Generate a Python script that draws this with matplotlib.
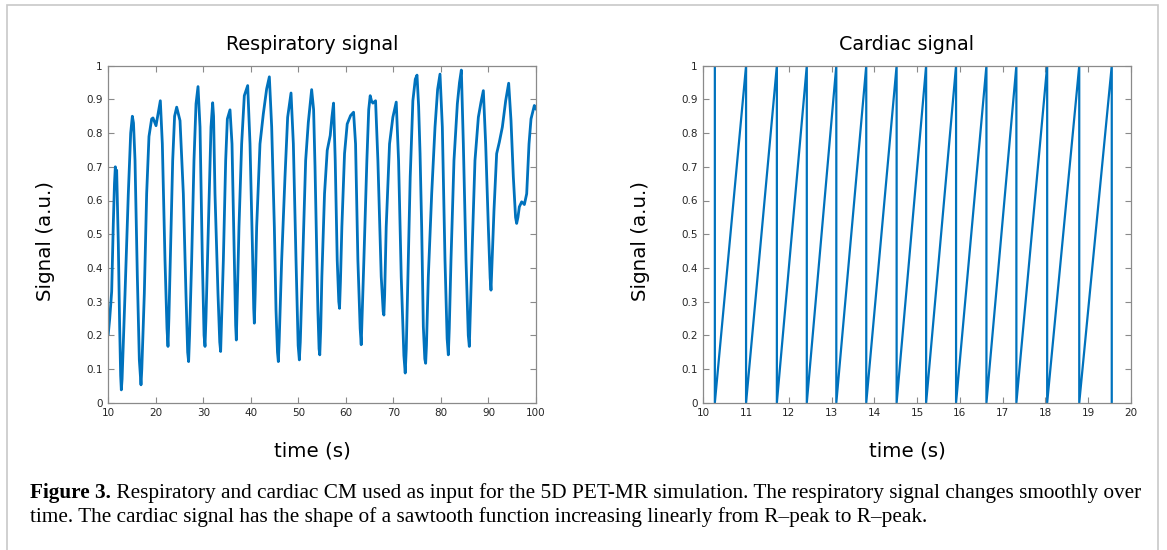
import matplotlib
matplotlib.use("Agg")
import matplotlib.pyplot as plt
from matplotlib.patches import Rectangle
import numpy as np

# ---------------- data ----------------
resp_time = [10.00, 10.30, 10.71, 11.05, 11.30, 11.48, 11.62, 11.76, 12.11, 12.39, 12.60, 12.74, 12.90,
             13.51, 14.21, 14.71, 15.06, 15.30, 15.62, 16.11, 16.53, 16.88, 17.05,
             17.58, 18.07, 18.56, 19.12, 19.40, 20.04, 20.50, 20.95, 21.37, 21.93, 22.35, 22.56, 22.75,
             23.05, 23.55, 23.95, 24.39, 25.09, 25.79, 26.34, 26.70, 26.90, 27.10,
             27.54, 28.03, 28.46, 28.88, 29.30, 29.79, 30.15, 30.35, 30.55,
             31.05, 31.61, 31.96, 32.15, 32.45, 33.08, 33.45, 33.64, 33.85,
             34.21, 34.70, 35.05, 35.61, 36.03, 36.45, 36.80, 36.94, 37.10,
             37.50, 38.06, 38.62, 39.33, 39.82, 40.31, 40.60, 40.73, 40.90,
             41.22, 41.92, 42.62, 43.32, 43.89, 44.38, 44.94, 45.29, 45.60, 45.78, 45.95,
             46.48, 47.18, 47.74, 48.45, 48.94, 49.50, 49.95, 50.20, 50.40,
             50.90, 51.53, 52.09, 52.79, 53.20, 53.50, 53.75, 54.10, 54.35, 54.50, 54.70,
             54.94, 55.50, 56.07, 56.70, 57.05, 57.40, 57.75, 58.17, 58.50, 58.66, 58.85,
             59.15, 59.71, 60.27, 60.98, 61.61, 62.03, 62.52, 63.00, 63.22, 63.40,
             63.78, 64.41, 64.80, 65.11, 65.40, 65.68, 66.24, 66.73, 67.43, 67.85, 67.99, 68.15,
             68.48, 69.18, 69.88, 70.59, 71.08, 71.64, 72.20, 72.48, 72.70,
             73.04, 73.53, 74.09, 74.60, 74.96, 75.30, 75.60, 75.94, 76.29, 76.60, 76.78, 76.95,
             77.34, 78.05, 78.75, 79.30, 79.80, 80.29, 80.85, 81.30, 81.55, 81.75,
             82.11, 82.74, 83.45, 83.90, 84.29, 84.71, 85.27, 85.75, 85.97, 86.20,
             86.60, 87.16, 87.87, 88.43, 88.92, 89.41, 89.97, 90.35, 90.53, 90.70,
             91.16, 91.72, 92.28, 92.92, 93.62, 94.25, 94.74, 95.23, 95.70, 95.93, 96.20,
             96.49, 96.98, 97.30, 97.55, 98.04, 98.53, 98.95, 99.65, 100.00]
resp_signal = [0.205, 0.25, 0.33, 0.53, 0.65, 0.70, 0.675, 0.69, 0.47, 0.226, 0.08, 0.038, 0.07,
               0.32, 0.62, 0.80, 0.85, 0.83, 0.72, 0.374, 0.127, 0.053, 0.10,
               0.324, 0.62, 0.79, 0.842, 0.845, 0.822, 0.86, 0.896, 0.768, 0.423, 0.22, 0.167, 0.25,
               0.423, 0.719, 0.85, 0.877, 0.837, 0.62, 0.324, 0.15, 0.122, 0.20,
               0.423, 0.719, 0.887, 0.938, 0.818, 0.423, 0.20, 0.167, 0.25,
               0.522, 0.818, 0.89, 0.85, 0.62, 0.324, 0.18, 0.152, 0.25,
               0.423, 0.719, 0.842, 0.869, 0.768, 0.472, 0.23, 0.186, 0.28,
               0.522, 0.768, 0.911, 0.941, 0.768, 0.472, 0.28, 0.236, 0.32,
               0.522, 0.768, 0.857, 0.931, 0.967, 0.818, 0.522, 0.275, 0.15, 0.122, 0.18,
               0.423, 0.67, 0.847, 0.919, 0.768, 0.423, 0.17, 0.127, 0.18,
               0.423, 0.719, 0.832, 0.929, 0.87, 0.70, 0.522, 0.275, 0.16, 0.142, 0.22,
               0.374, 0.62, 0.749, 0.793, 0.847, 0.889, 0.719, 0.423, 0.30, 0.28, 0.36,
               0.522, 0.739, 0.827, 0.852, 0.862, 0.768, 0.423, 0.22, 0.172, 0.25,
               0.423, 0.719, 0.87, 0.911, 0.895, 0.889, 0.896, 0.719, 0.374, 0.27, 0.26, 0.32,
               0.522, 0.768, 0.847, 0.892, 0.719, 0.374, 0.14, 0.088, 0.16,
               0.374, 0.67, 0.896, 0.96, 0.972, 0.88, 0.74, 0.522, 0.226, 0.13, 0.117, 0.17,
               0.374, 0.62, 0.818, 0.93, 0.975, 0.818, 0.423, 0.19, 0.142, 0.22,
               0.423, 0.719, 0.887, 0.95, 0.987, 0.768, 0.423, 0.20, 0.167, 0.28,
               0.472, 0.719, 0.847, 0.892, 0.926, 0.768, 0.522, 0.37, 0.334, 0.40,
               0.571, 0.739, 0.773, 0.818, 0.896, 0.948, 0.837, 0.67, 0.55, 0.532, 0.55,
               0.581, 0.596, 0.592, 0.588, 0.62, 0.768, 0.842, 0.882, 0.872]

# R-peak times of the cardiac signal (s); signal ramps 0 -> 1 between peaks
r_peaks = [10.27, 11.00, 11.72, 12.42, 13.11, 13.81, 14.52, 15.21, 15.91, 16.62, 17.32, 18.04, 18.79, 19.55]

titles = ["Respiratory signal", "Cardiac signal"]
ylabel = "Signal (a.u.)"
xlabel = "time (s)"
resp_xticks = list(range(10, 101, 10))
card_xticks = list(range(10, 21, 1))
yticks = [0, 0.1, 0.2, 0.3, 0.4, 0.5, 0.6, 0.7, 0.8, 0.9, 1]
ytick_labels = ["0", "0.1", "0.2", "0.3", "0.4", "0.5", "0.6", "0.7", "0.8", "0.9", "1"]

caption_bold = "Figure 3."
caption_line1 = " Respiratory and cardiac CM used as input for the 5D PET-MR simulation. The respiratory signal changes smoothly over"
caption_line2 = "time. The cardiac signal has the shape of a sawtooth function increasing linearly from R\u2013peak to R\u2013peak."

# ---------------- figure ----------------
W, H = 1167, 550
fig = plt.figure(figsize=(W / 100, H / 100), dpi=100)
fig.patch.set_facecolor("white")

# outer frame
fig.patches.append(Rectangle((7 / W, -0.05), (1158 - 7) / W, 1.05 - 5 / H,
                             transform=fig.transFigure, fill=False,
                             edgecolor="#c8c8c8", linewidth=1.2))

LINE = "#0072BD"
AX = "#8a8a8a"
TXT = "#262626"

def style(ax, xticks, xlim, title):
    ax.set_xlim(*xlim)
    ax.set_ylim(0, 1)
    ax.set_xticks(xticks)
    ax.set_xticklabels([str(t) for t in xticks])
    ax.set_yticks(yticks)
    ax.set_yticklabels(ytick_labels)
    ax.tick_params(direction="in", length=4, width=0.8, color=AX, labelsize=7.5,
                   labelcolor=TXT, top=True, right=True, pad=4)
    for s in ax.spines.values():
        s.set_color(AX)
        s.set_linewidth(0.9)
    ax.set_ylabel(ylabel, fontsize=14.3, color="black")
    ax.set_xlabel(xlabel, fontsize=14.3, color="black")
    ax.yaxis.set_label_coords(-0.125, 0.48)
    ax.xaxis.set_label_coords(0.478, -0.115)
    ax.set_title(title, fontsize=13.8, pad=11, x=0.476)

ax1 = fig.add_axes([108.3 / W, (H - 402.7) / H, 427.7 / W, 337 / H])
ax1.plot(resp_time, resp_signal, color=LINE, linewidth=2.0, solid_joinstyle="round")
style(ax1, resp_xticks, (10, 100), titles[0])

ax2 = fig.add_axes([703.3 / W, (H - 402.7) / H, 427.7 / W, 337 / H])
card_t = np.repeat(np.array(r_peaks), 2)
card_v = np.tile([1.0, 0.0], len(r_peaks))
ax2.plot(card_t, card_v, color=LINE, linewidth=1.6)
style(ax2, card_xticks, (10, 20), titles[1])

# caption
serif = "Liberation Serif"
cs = 15.3
cx0 = 30 / W
t1 = fig.text(cx0, 1 - 498 / H, caption_bold, fontsize=cs, fontweight="bold",
              family=serif, va="baseline", ha="left")
fig.canvas.draw()
r = fig.canvas.get_renderer()
bb = t1.get_window_extent(renderer=r)
fig.text(bb.x1 / W, 1 - 498 / H, caption_line1, fontsize=cs, family=serif,
         va="baseline", ha="left")
fig.text(cx0, 1 - 522 / H, caption_line2, fontsize=cs, family=serif,
         va="baseline", ha="left")

fig.savefig("out.png", dpi=100, facecolor="white")
